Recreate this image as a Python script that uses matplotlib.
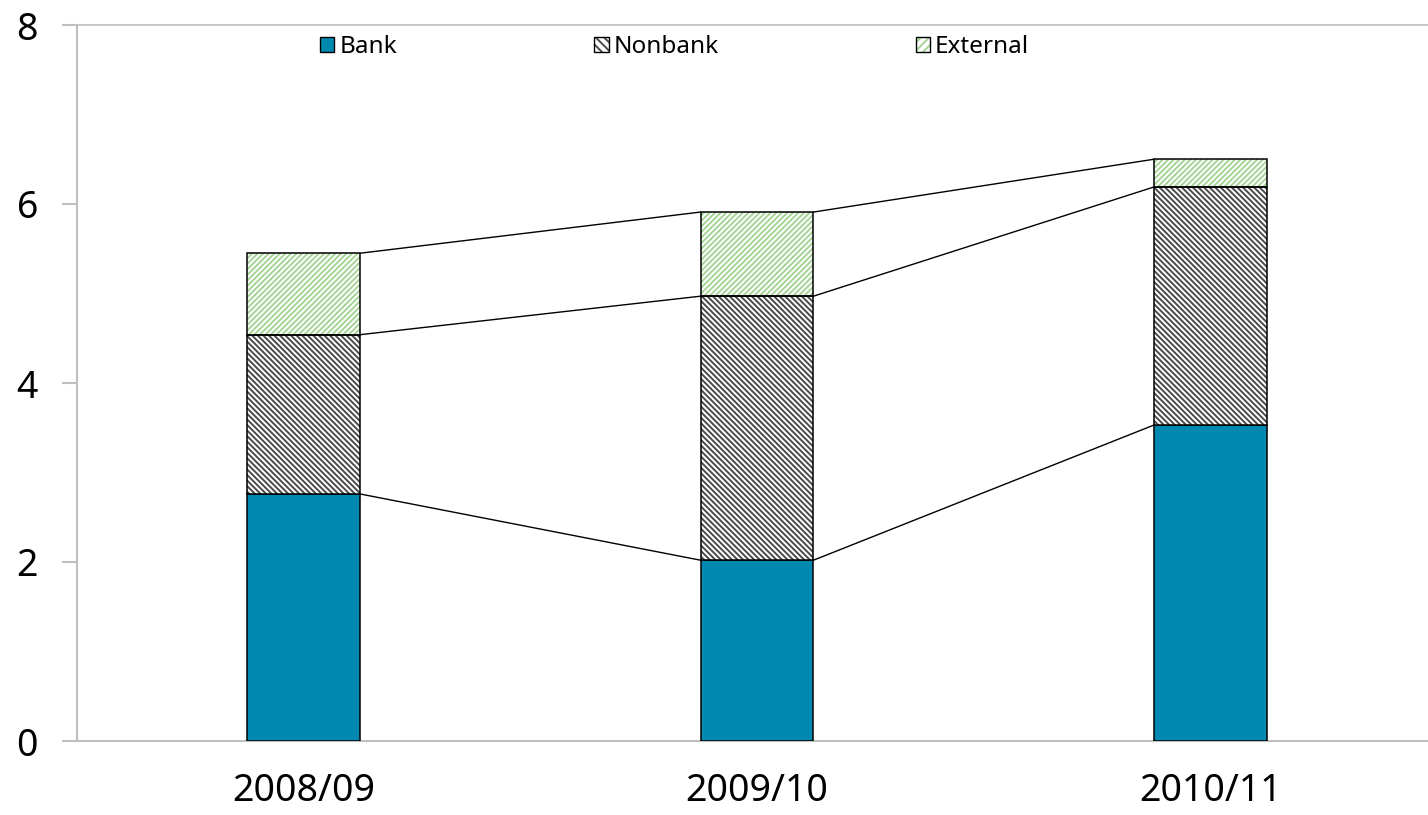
import matplotlib
matplotlib.use("Agg")
import matplotlib.pyplot as plt
from matplotlib.patches import Patch
import numpy as np

plt.rcParams['font.family'] = ['Noto Sans', 'DejaVu Sans']
plt.rcParams['hatch.linewidth'] = 1.4

# Data (stacked components by fiscal year)
years = ["2008/09", "2009/10", "2010/11"]
bank = [2.76, 2.02, 3.53]
nonbank = [1.78, 2.95, 2.66]
external = [0.91, 0.94, 0.31]
series_names = ["Bank", "Nonbank", "External"]
y_ticks = [0, 2, 4, 6, 8]

bank_color = "#0089B0"
nonbank_hatch_color = "#4a4a4a"
external_hatch_color = "#a6d496"
axis_gray = "#BFBFBF"
nonbank_hatch = "\\" * 6
external_hatch = "/" * 6

fig = plt.figure(figsize=(14.28, 8.15), dpi=100)
ax = fig.add_axes([77 / 1428, 1 - 741 / 815, (1437 - 77) / 1428, (741 - 25) / 815])

x = np.arange(len(years))
w = 0.249

b1 = np.array(bank)
b2 = b1 + np.array(nonbank)
b3 = b2 + np.array(external)

# Bank segment: solid fill
ax.bar(x, bank, w, color=bank_color, edgecolor="black", linewidth=1.1, zorder=3)
# Nonbank segment: dense dark diagonal hatch on white
ax.bar(x, nonbank, w, bottom=b1, color="white", edgecolor=nonbank_hatch_color,
       hatch=nonbank_hatch, linewidth=0, zorder=3)
ax.bar(x, nonbank, w, bottom=b1, color="none", edgecolor="black", linewidth=1.1, zorder=4)
# External segment: light green diagonal hatch
ax.bar(x, external, w, bottom=b2, color="white", edgecolor=external_hatch_color,
       hatch=external_hatch, linewidth=0, zorder=3)
ax.bar(x, external, w, bottom=b2, color="none", edgecolor="black", linewidth=1.1, zorder=4)

# Connector lines between adjacent bars at each cumulative level
for level in (b1, b2, b3):
    for i in range(len(x) - 1):
        ax.plot([x[i] + w / 2, x[i + 1] - w / 2], [level[i], level[i + 1]],
                color="black", linewidth=1.0, zorder=2)

ax.set_xlim(-0.5, 2.5)
ax.set_ylim(0, 8)
ax.set_yticks(y_ticks)
ax.set_xticks(x)
ax.set_xticklabels(years)

ax.spines["right"].set_visible(False)
for side in ("left", "bottom", "top"):
    ax.spines[side].set_color(axis_gray)
    ax.spines[side].set_linewidth(1.5)
ax.spines["top"].set_linewidth(1.2)

ax.tick_params(axis="y", length=11, width=1.5, color=axis_gray, labelsize=27, pad=17)
ax.tick_params(axis="x", length=0, labelsize=27, pad=22)

# Legend with hatch + black outline swatches
def swatch(face, hatch=None, hcolor=None):
    fill = Patch(facecolor=face, edgecolor=hcolor if hcolor else face, hatch=hatch, linewidth=0)
    outline = Patch(facecolor="none", edgecolor="black", linewidth=1.0)
    return (fill, outline)

handles = [
    swatch(bank_color),
    swatch("white", "\\\\\\\\", nonbank_hatch_color),
    swatch("white", "////", external_hatch_color),
]
fig.legend(handles, series_names, loc="center",
           bbox_to_anchor=(674.5 / 1428, 1 - 47 / 815), ncol=3, frameon=False,
           fontsize=17.5, handlelength=0.6, handleheight=0.6, handletextpad=0.2,
           columnspacing=8.1, borderpad=0)

fig.savefig("out.png", dpi=100)
